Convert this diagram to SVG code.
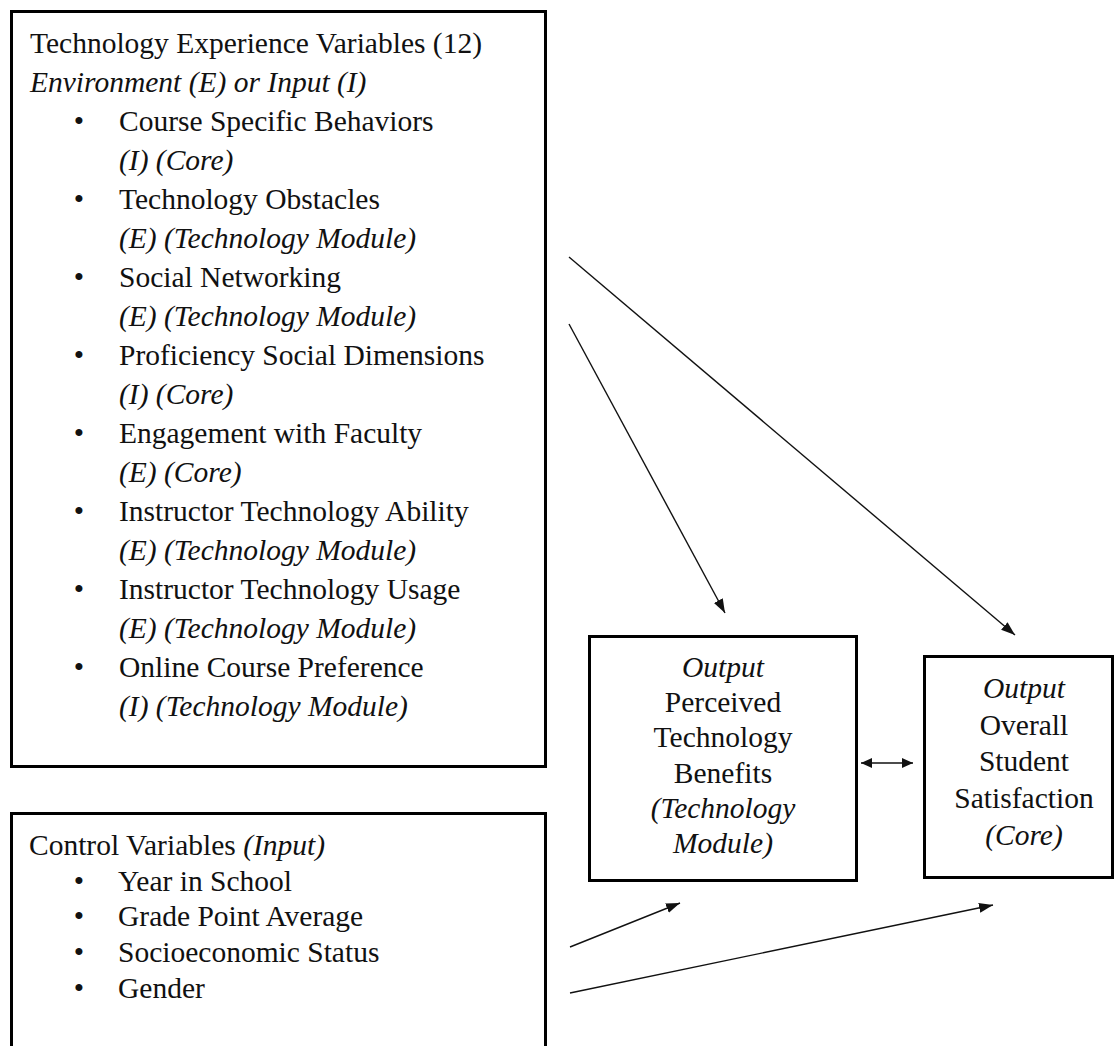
<svg xmlns="http://www.w3.org/2000/svg" width="1118" height="1046" viewBox="0 0 1118 1046">
  <style>
    .box { fill: #ffffff; stroke: #000000; stroke-width: 3; }
    .t { font-family: "Liberation Serif", "Times New Roman", serif; font-size: 29.5px; fill: #111111; }
    .i { font-style: italic; }
    .c { text-anchor: middle; }
    .link { stroke: #111111; stroke-width: 1.4; fill: none; }
  </style>
  <defs>
    <marker id="head" markerUnits="userSpaceOnUse" markerWidth="15" markerHeight="11" refX="14" refY="5" orient="auto">
      <path d="M0,0 L14,5 L0,10 z" fill="#111111"/>
    </marker>
    <marker id="headSmall" markerUnits="userSpaceOnUse" markerWidth="12" markerHeight="11" refX="11" refY="5" orient="auto-start-reverse">
      <path d="M0,0 L11,5 L0,10 z" fill="#111111"/>
    </marker>
  </defs>

  <rect width="1118" height="1046" fill="#ffffff"/>

  <!-- Technology experience variables -->
  <g id="tech-experience">
    <rect class="box" x="11.5" y="11.5" width="534" height="755"/>
    <text class="t" x="30" y="53">Technology Experience Variables (12)</text>
    <text class="t i" x="30" y="92">Environment (E) or Input (I)</text>
    <g class="t c">
      <text x="79" y="131">•</text>
      <text x="79" y="209">•</text>
      <text x="79" y="287">•</text>
      <text x="79" y="365">•</text>
      <text x="79" y="443">•</text>
      <text x="79" y="521">•</text>
      <text x="79" y="599">•</text>
      <text x="79" y="677">•</text>
    </g>
    <text class="t" x="119" y="131">Course Specific Behaviors</text>
    <text class="t i" x="119" y="170">(I) (Core)</text>
    <text class="t" x="119" y="209">Technology Obstacles</text>
    <text class="t i" x="119" y="248">(E) (Technology Module)</text>
    <text class="t" x="119" y="287">Social Networking</text>
    <text class="t i" x="119" y="326">(E) (Technology Module)</text>
    <text class="t" x="119" y="365">Proficiency Social Dimensions</text>
    <text class="t i" x="119" y="404">(I) (Core)</text>
    <text class="t" x="119" y="443">Engagement with Faculty</text>
    <text class="t i" x="119" y="482">(E) (Core)</text>
    <text class="t" x="119" y="521">Instructor Technology Ability</text>
    <text class="t i" x="119" y="560">(E) (Technology Module)</text>
    <text class="t" x="119" y="599">Instructor Technology Usage</text>
    <text class="t i" x="119" y="638">(E) (Technology Module)</text>
    <text class="t" x="119" y="677">Online Course Preference</text>
    <text class="t i" x="119" y="716">(I) (Technology Module)</text>
  </g>

  <!-- Control variables -->
  <g id="control-variables">
    <rect class="box" x="11.5" y="813.5" width="534" height="300"/>
    <text class="t" x="29" y="855">Control Variables <tspan class="i">(Input)</tspan></text>
    <g class="t c">
      <text x="79" y="891">•</text>
      <text x="79" y="926">•</text>
      <text x="79" y="962">•</text>
      <text x="79" y="998">•</text>
    </g>
    <text class="t" x="118" y="891">Year in School</text>
    <text class="t" x="118" y="926">Grade Point Average</text>
    <text class="t" x="118" y="962">Socioeconomic Status</text>
    <text class="t" x="118" y="998">Gender</text>
  </g>

  <!-- Output: perceived technology benefits -->
  <g id="perceived-benefits">
    <rect class="box" x="589.5" y="636.5" width="267" height="244"/>
    <text class="t i c" x="723" y="677">Output</text>
    <text class="t c" x="723" y="712">Perceived</text>
    <text class="t c" x="723" y="747">Technology</text>
    <text class="t c" x="723" y="783">Benefits</text>
    <text class="t i c" x="723" y="818">(Technology</text>
    <text class="t i c" x="723" y="853">Module)</text>
  </g>

  <!-- Output: overall student satisfaction -->
  <g id="student-satisfaction">
    <rect class="box" x="924.5" y="656.5" width="188" height="221"/>
    <text class="t i c" x="1024" y="698">Output</text>
    <text class="t c" x="1024" y="735">Overall</text>
    <text class="t c" x="1024" y="771">Student</text>
    <text class="t c" x="1024" y="808">Satisfaction</text>
    <text class="t i c" x="1024" y="845">(Core)</text>
  </g>

  <!-- Connectors -->
  <g id="connectors">
    <line class="link" x1="569" y1="257" x2="1015" y2="635" marker-end="url(#head)"/>
    <line class="link" x1="569" y1="324" x2="725" y2="613" marker-end="url(#head)"/>
    <line class="link" x1="861" y1="763" x2="913" y2="763" marker-start="url(#headSmall)" marker-end="url(#headSmall)"/>
    <line class="link" x1="570" y1="947" x2="680" y2="903" marker-end="url(#head)"/>
    <line class="link" x1="570" y1="993" x2="993" y2="905" marker-end="url(#head)"/>
  </g>
</svg>
